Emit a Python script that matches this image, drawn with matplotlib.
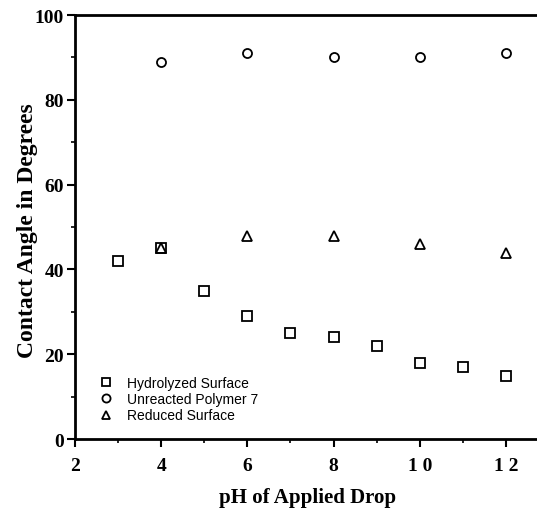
import matplotlib.pyplot as plt
from matplotlib.ticker import MultipleLocator

# contact angle data
ph_hydrolyzed = [3, 4, 5, 6, 7, 8, 9, 10, 11, 12]
angle_hydrolyzed = [42, 45, 35, 29, 25, 24, 22, 18, 17, 15]
ph_unreacted = [4, 6, 8, 10, 12]
angle_unreacted = [89, 91, 90, 90, 91]
ph_reduced = [4, 6, 8, 10, 12]
angle_reduced = [45, 48, 48, 46, 44]

x_ticks = [2, 4, 6, 8, 10, 12]
x_tick_labels = ["2", "4", "6", "8", "1 0", "1 2"]
y_ticks = [0, 20, 40, 60, 80, 100]

fig = plt.figure(figsize=(5.37, 5.10), dpi=100)
ax = fig.add_axes([0.1397, 0.137, 0.8603, 0.8316])

marker_style = dict(linestyle="none", mfc="none", mec="black", ms=6.5, mew=1.3)
ax.plot(ph_hydrolyzed, angle_hydrolyzed, marker="s", label="Hydrolyzed Surface", **marker_style)
ax.plot(ph_unreacted, angle_unreacted, marker="o", label="Unreacted Polymer 7", **marker_style)
ax.plot(ph_reduced, angle_reduced, marker="^", label="Reduced Surface", **marker_style)

ax.set_xlim(2, 12.72)
ax.set_ylim(0, 100)
ax.set_xticks(x_ticks)
ax.set_xticklabels(x_tick_labels)
ax.set_yticks(y_ticks)
ax.xaxis.set_minor_locator(MultipleLocator(1))
ax.yaxis.set_minor_locator(MultipleLocator(10))

for lbl in ax.get_xticklabels() + ax.get_yticklabels():
    lbl.set_fontfamily("Liberation Serif")
    lbl.set_fontweight("bold")
    lbl.set_fontsize(14)

ax.tick_params(which="major", direction="out", length=6, width=1.5)
ax.tick_params(axis="y", which="major", pad=2)
ax.tick_params(axis="x", which="major", pad=7)
ax.tick_params(which="minor", direction="out", length=3, width=1.2)

ax.spines["right"].set_visible(False)
for side in ["left", "bottom", "top"]:
    ax.spines[side].set_linewidth(2)

ax.set_xlabel("pH of Applied Drop", fontfamily="Liberation Serif", fontweight="bold",
              fontsize=15)
ax.set_ylabel("Contact Angle in Degrees", fontfamily="Liberation Serif", fontweight="bold",
              fontsize=17)
ax.xaxis.set_label_coords(0.504, -0.113)
ax.yaxis.set_label_coords(-0.08, 0.495)

ax.legend(loc="lower left", bbox_to_anchor=(0.01, 0.01), frameon=False,
          prop={"family": "Liberation Sans", "size": 10}, handletextpad=0.5,
          labelspacing=0.15, markerscale=0.9, borderaxespad=0.5)

fig.savefig("out.png", dpi=100)
